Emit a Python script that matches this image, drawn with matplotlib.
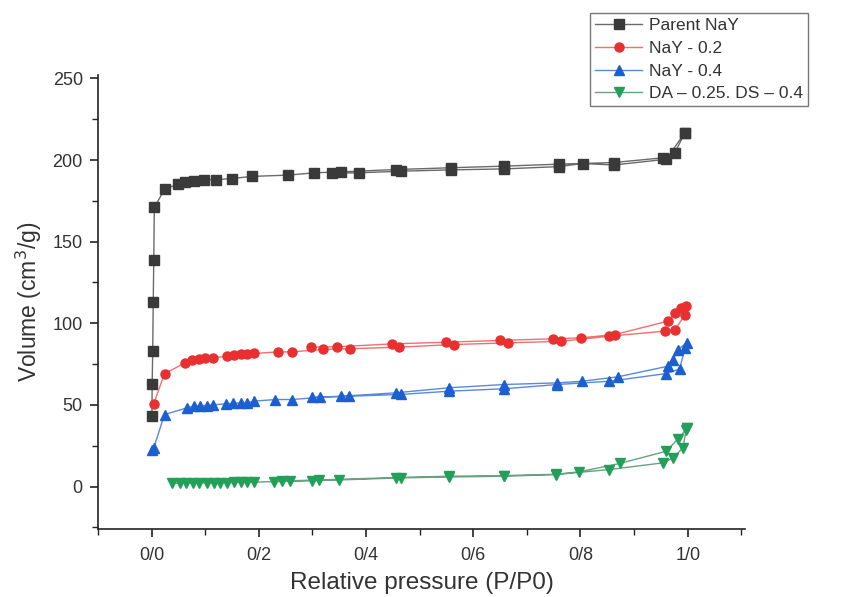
import matplotlib
matplotlib.use("Agg")
import matplotlib.pyplot as plt
from matplotlib.ticker import MultipleLocator, FixedLocator

plt.rcParams['font.family'] = ['Liberation Sans', 'DejaVu Sans']

# ---- data (adsorption branch, then desorption branch) ----
parent_ads_x = [0.0005, 0.001, 0.002, 0.003, 0.004, 0.005, 0.024, 0.05, 0.063, 0.079, 0.097, 0.12,
                0.149, 0.187, 0.255, 0.303, 0.353, 0.455, 0.558, 0.658, 0.759, 0.862, 0.954, 0.976, 0.995]
parent_ads_y = [43, 63, 83, 113, 139, 171, 182, 185.5, 186.5, 187.3, 188, 188,
                188.7, 190, 190.8, 192.2, 192.8, 194.2, 195.3, 196.3, 197.5, 198.5, 201.4, 204.5, 216.9]
parent_des_x = [0.995, 0.96, 0.862, 0.804, 0.759, 0.658, 0.558, 0.465, 0.387, 0.336]
parent_des_y = [216.9, 200.5, 197.0, 197.9, 196.0, 194.6, 194.0, 193.2, 192.2, 192.0]

nay2_ads_x = [0.004, 0.024, 0.063, 0.075, 0.088, 0.1, 0.114, 0.141, 0.153, 0.166, 0.178, 0.191,
              0.236, 0.262, 0.32, 0.37, 0.462, 0.564, 0.664, 0.764, 0.854, 0.957, 0.976, 0.995]
nay2_ads_y = [50.7, 69.2, 75.8, 77.4, 78.2, 78.8, 78.8, 79.9, 80.3, 80.9, 80.9, 81.5,
              82.5, 82.5, 84, 84.4, 85.4, 87, 88, 89, 92.1, 95.2, 96.2, 105]
nay2_des_x = [0.997, 0.988, 0.976, 0.963, 0.864, 0.801, 0.748, 0.649, 0.549, 0.449, 0.346, 0.297]
nay2_des_y = [110.5, 109.5, 106.4, 101.3, 93.1, 91.1, 90.5, 89.5, 88.4, 87.4, 85.6, 85.4]

nay4_ads_x = [0.001, 0.004, 0.024, 0.066, 0.079, 0.091, 0.103, 0.114, 0.139, 0.152, 0.166, 0.178,
              0.191, 0.231, 0.262, 0.315, 0.368, 0.465, 0.555, 0.658, 0.757, 0.854, 0.96, 0.985, 0.995]
nay4_ads_y = [22.5, 23.7, 44.1, 48.2, 49.2, 49.6, 49.6, 50, 50.7, 50.9, 51.3, 51.3,
              52.3, 53.3, 53.3, 54.7, 55.3, 56.4, 58.4, 59.9, 62.5, 64.5, 69.2, 72, 85]
nay4_des_x = [0.998, 0.982, 0.973, 0.963, 0.87, 0.803, 0.757, 0.658, 0.555, 0.455, 0.353, 0.3]
nay4_des_y = [88, 83.9, 77.8, 73.7, 67.2, 64.5, 63.5, 62.5, 60.5, 57.4, 55.3, 54.7]

da_ads_x = [0.038, 0.052, 0.064, 0.077, 0.089, 0.103, 0.116, 0.128, 0.141, 0.153, 0.166, 0.178,
            0.191, 0.228, 0.259, 0.3, 0.349, 0.465, 0.555, 0.658, 0.754, 0.854, 0.954, 0.973, 0.991, 0.998]
da_ads_y = [2.0, 2.1, 2.1, 2.2, 2.2, 2.3, 2.3, 2.4, 2.4, 2.5, 2.6, 2.6,
            2.7, 3.0, 3.2, 3.5, 4.0, 5.3, 5.8, 6.3, 7.3, 10.4, 14.5, 17.6, 23.7, 36]
da_des_x = [0.998, 0.997, 0.982, 0.96, 0.873, 0.798, 0.754, 0.658, 0.555, 0.455, 0.312, 0.244]
da_des_y = [36, 34.9, 29.2, 21.6, 14.1, 9.0, 7.5, 6.7, 6.3, 5.5, 4.0, 3.4]

labels = ["Parent NaY", "NaY - 0.2", "NaY - 0.4", "DA \u2013 0.25. DS \u2013 0.4"]
x_tick_vals = [0.0, 0.2, 0.4, 0.6, 0.8, 1.0]
x_tick_labels = ["0/0", "0/2", "0/4", "0/6", "0/8", "1/0"]
y_tick_vals = [0, 50, 100, 150, 200, 250]

series = [
    (parent_ads_x + parent_des_x, parent_ads_y + parent_des_y, 's', '#3a3a3a', '#6a6a6a'),
    (nay2_ads_x + nay2_des_x, nay2_ads_y + nay2_des_y, 'o', '#e83030', '#f07070'),
    (nay4_ads_x + nay4_des_x, nay4_ads_y + nay4_des_y, '^', '#1c5fd0', '#5a88dc'),
    (da_ads_x + da_des_x, da_ads_y + da_des_y, 'v', '#22a05a', '#6aa080'),
]

fig = plt.figure(figsize=(8.48, 5.97), dpi=100)
ax = fig.add_axes([0.1156, 0.114, 0.763, 0.760])

handles = []
for (xs, ys, m, mc, lc), lab in zip(series, labels):
    h, = ax.plot(xs, ys, '-', color=lc, lw=1.0, marker=m, markersize=6.5,
                 markerfacecolor=mc, markeredgecolor=mc, label=lab)
    handles.append(h)

ax.set_xlim(-0.1, 1.107)
ax.set_ylim(-26, 252)
ax.spines['top'].set_visible(False)
ax.spines['right'].set_visible(False)
for s in ['left', 'bottom']:
    ax.spines[s].set_linewidth(1.2)
    ax.spines[s].set_color('#222222')

ax.xaxis.set_major_locator(FixedLocator(x_tick_vals))
ax.set_xticklabels(x_tick_labels)
ax.xaxis.set_minor_locator(MultipleLocator(0.1))
ax.yaxis.set_major_locator(FixedLocator(y_tick_vals))
ax.yaxis.set_minor_locator(MultipleLocator(25))
ax.tick_params(axis='both', which='major', direction='out', length=6, width=1.2,
               labelsize=13, colors='#222222', labelcolor='#333333')
ax.tick_params(axis='both', which='minor', direction='out', length=4, width=1.0, colors='#222222')
ax.tick_params(axis='x', pad=7)
ax.tick_params(axis='y', pad=5)

ax.set_xlabel("Relative pressure (P/P0)", fontsize=17.5, color='#333333', labelpad=6)
ax.set_ylabel("Volume (cm$^3$/g)", fontsize=16.5, color='#333333', labelpad=6)

leg = fig.legend(handles=handles, labels=labels, loc='upper left',
                 bbox_to_anchor=(590 / 848, 1 - 13 / 597), fontsize=12.5,
                 frameon=True, fancybox=False, edgecolor='#777777', framealpha=1,
                 handlelength=2.7, handletextpad=0.4, labelspacing=0.43,
                 borderpad=0.3, borderaxespad=0)
leg.get_frame().set_linewidth(1.0)
for t in leg.get_texts():
    t.set_color('#333333')

fig.savefig("out.png", dpi=100)
